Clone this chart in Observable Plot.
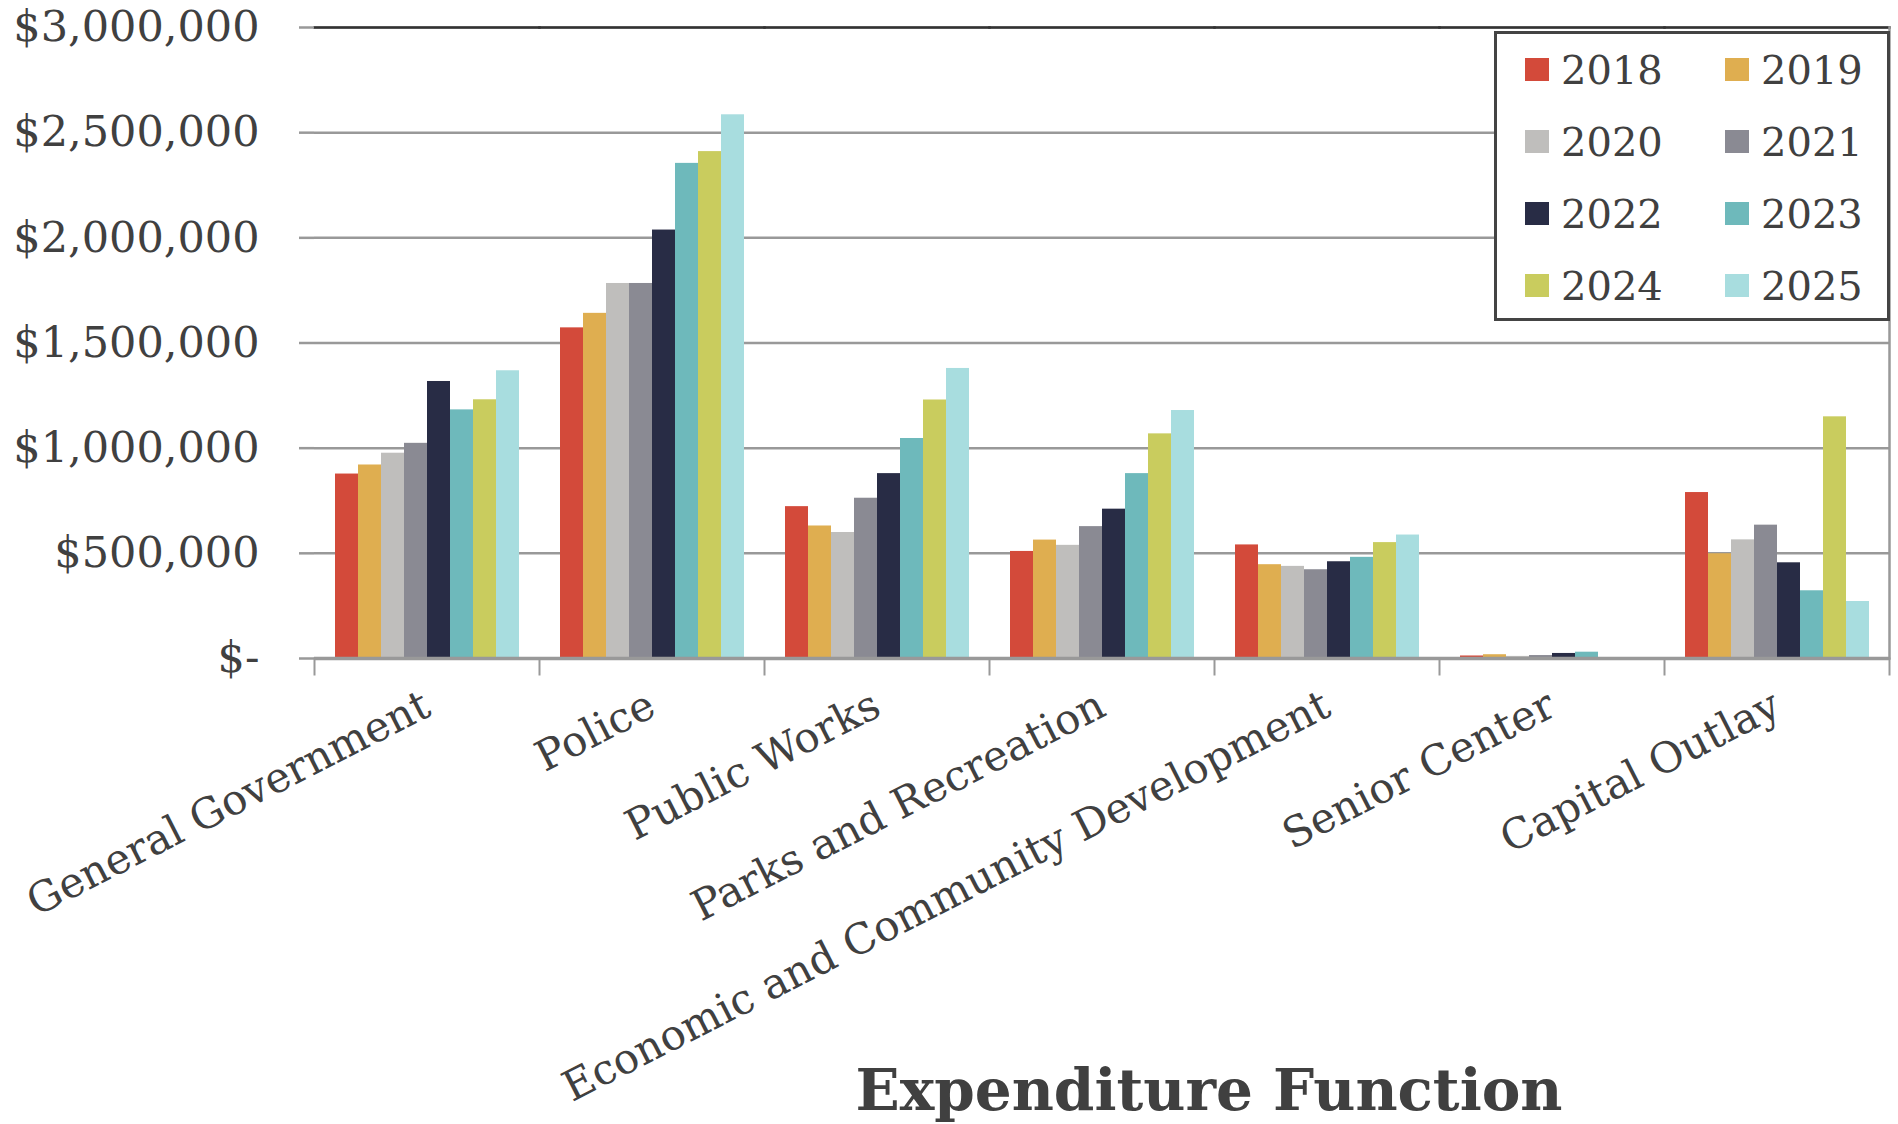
<!DOCTYPE html>
<html>
<head>
<meta charset="utf-8">
<script src="https://cdn.jsdelivr.net/npm/d3@7"></script>
<script src="https://cdn.jsdelivr.net/npm/@observablehq/plot@0.6"></script>
<style>
  html, body { margin: 0; padding: 0; background: #fff; }
  #wrap { position: relative; width: 1898px; height: 1124px; overflow: hidden; font-family: "DejaVu Serif", serif; color: #404040; }
  #legend { position: absolute; left: 1494px; top: 31px; width: 396px; height: 290px; border: 3px solid #444; background: #fff;
            display: grid; grid-template-columns: 200px 160px; grid-template-rows: repeat(4, 72px); padding-left: 28px; box-sizing: border-box; }
  #legend .item { display: flex; align-items: center; font-size: 40px; margin-top: -1px; }
  #legend .sw { width: 24px; height: 23px; margin-right: 12px; flex: none; }
  #title { position: absolute; left: 709px; width: 1000px; top: 1062px; text-align: center; font-size: 58px; line-height: 56px; font-weight: bold; color: #404040; }
</style>
</head>
<body>
<div id="wrap"></div>
<script>
const categories = ["General Government", "Police", "Public Works", "Parks and Recreation", "Economic and Community Development", "Senior Center", "Capital Outlay"];
const years = ["2018", "2019", "2020", "2021", "2022", "2023", "2024", "2025"];
const colors = ["#D34A3A", "#DFAE50", "#BFBEBC", "#8A8A93", "#282C45", "#6EB9BB", "#C9CC5E", "#A8DDDF"];

const generalGovernment = [877000, 920000, 976000, 1023000, 1317000, 1182000, 1230000, 1368000];
const police = [1572000, 1641000, 1783000, 1783000, 2037000, 2354000, 2410000, 2585000];
const publicWorks = [722000, 630000, 599000, 762000, 879000, 1046000, 1229000, 1379000];
const parksAndRecreation = [509000, 563000, 538000, 627000, 710000, 879000, 1068000, 1179000];
const economicDevelopment = [540000, 446000, 438000, 422000, 460000, 481000, 551000, 587000];
const seniorCenter = [12000, 18000, 10000, 14000, 24000, 30000, 0, 0];
const capitalOutlay = [789000, 498000, 564000, 634000, 455000, 322000, 1149000, 271000];

const yTicks = [0, 500000, 1000000, 1500000, 2000000, 2500000, 3000000];
const axisTitle = "Expenditure Function";

const series = [generalGovernment, police, publicWorks, parksAndRecreation, economicDevelopment, seniorCenter, capitalOutlay];
const data = [];
categories.forEach((c, i) => years.forEach((y, j) => data.push({category: c, year: y, value: series[i][j]})));

const W = 1898, H = 1124, mL = 313, mR = 8, mT = 27, mB = 466;
const plotH = H - mT - mB;

const fmt = d => d === 0 ? "$-" : "$" + d3.format(",")(d);

const chart = Plot.plot({
  width: W, height: H,
  marginLeft: mL, marginRight: mR, marginTop: mT, marginBottom: mB,
  style: {fontFamily: "DejaVu Serif, serif", fontSize: "42px", color: "#404040", background: "transparent"},
  fx: {domain: categories, padding: 0, paddingInner: 0, paddingOuter: 0, label: null},
  x: {domain: years, paddingInner: 0, paddingOuter: 0.733, axis: null},
  y: {domain: [0, 3000000], label: null},
  color: {domain: years, range: colors},
  marks: [
    Plot.gridY(yTicks, {stroke: "#999", strokeOpacity: 1, strokeWidth: 2.5}),
    Plot.barY(data, {fx: "category", x: "year", y: "value", fill: "year", inset: 0}),
    Plot.ruleY([0], {stroke: "#999", strokeWidth: 3.5}),
    Plot.frame({anchor: "top", stroke: "#333", strokeWidth: 2.5}),
    Plot.frame({anchor: "right", facetAnchor: "right", stroke: "#999", strokeWidth: 2.5}),
    Plot.frame({anchor: "left", insetTop: plotH, insetBottom: -16, stroke: "#999", strokeWidth: 2}),
    Plot.frame({anchor: "right", facetAnchor: "right", insetTop: plotH, insetBottom: -16, stroke: "#999", strokeWidth: 2}),
    Plot.axisY(yTicks, {tickSize: 15, tickPadding: 40, tickFormat: fmt, stroke: "#999", strokeWidth: 2.5, fill: "#404040", line: true, label: null, fontSize: 43}),
    Plot.axisFx({anchor: "bottom", tickRotate: -27, tickSize: 0, tickPadding: 44, fill: "#404040", label: null, fontSize: 42})
  ]
});

const wrap = document.getElementById("wrap");
wrap.appendChild(chart);

const legend = document.createElement("div");
legend.id = "legend";
years.forEach((y, i) => {
  const it = document.createElement("div");
  it.className = "item";
  const sw = document.createElement("span");
  sw.className = "sw";
  sw.style.background = colors[i];
  it.appendChild(sw);
  it.appendChild(document.createTextNode(y));
  legend.appendChild(it);
});
wrap.appendChild(legend);

const title = document.createElement("div");
title.id = "title";
title.textContent = axisTitle;
wrap.appendChild(title);
</script>
</body>
</html>
